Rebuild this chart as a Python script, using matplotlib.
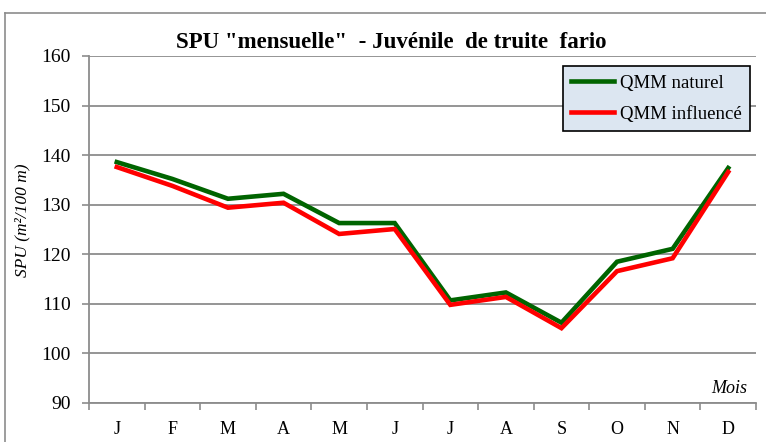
import matplotlib
matplotlib.use("Agg")
import matplotlib.pyplot as plt
from matplotlib.lines import Line2D

months = ["J", "F", "M", "A", "M", "J", "J", "A", "S", "O", "N", "D"]
qmm_naturel = [138.6, 135.2, 131.2, 132.2, 126.3, 126.3, 110.7, 112.3, 106.2, 118.5, 121.1, 137.4]
qmm_influence = [137.6, 133.8, 129.4, 130.4, 124.1, 125.1, 109.8, 111.4, 105.1, 116.6, 119.2, 136.6]
yticks = [90, 100, 110, 120, 130, 140, 150, 160]

plt.rcParams['font.family'] = ['Liberation Serif', 'DejaVu Serif']

fig = plt.figure(figsize=(7.66, 4.42), dpi=100)
ax = fig.add_axes([89/766, 1-403/442, (756-89)/766, (403-56)/442])

x = list(range(len(months)))
ax.plot(x, qmm_naturel, color="#006400", lw=3.3, label="QMM naturel", solid_joinstyle='miter')
ax.plot(x, qmm_influence, color="#ff0000", lw=3.3, label="QMM influencé", solid_joinstyle='miter')

ax.set_xlim(-0.5, len(months) - 0.5)
ax.set_ylim(90, 160)
ax.set_yticks(yticks)
ax.set_yticklabels([str(v) for v in yticks], fontsize=14)
ax.grid(axis='y', color="#8c8c8c", lw=1.3)
ax.set_axisbelow(True)

ax.set_xticks([i - 0.5 for i in range(len(months) + 1)])
ax.set_xticklabels([])
ax.set_xticks(x, minor=True)
ax.set_xticklabels(months, minor=True, fontsize=13)
ax.tick_params(axis='x', which='major', length=5, color="#8c8c8c", width=1.2)
ax.tick_params(axis='x', which='minor', length=0, pad=13)
ax.tick_params(axis='y', length=5, color="#8c8c8c", width=1.2, pad=8)

for s in ['top', 'right']:
    ax.spines[s].set_visible(False)
for s in ['left', 'bottom']:
    ax.spines[s].set_color("#8c8c8c")
    ax.spines[s].set_linewidth(1.3)

fig.text(22/766, 1-220/442, "SPU (m²/100 m)", rotation=90, ha='center', va='center',
         fontstyle='italic', fontsize=12.5)
ax.text(1-9/667, 6/347, "Mois", transform=ax.transAxes, ha='right', va='bottom',
        fontstyle='italic', fontsize=13)

fig.text(391/766, 1-43/442, 'SPU "mensuelle"  - Juvénile  de truite  fario',
         ha='center', va='center', fontsize=16.5, fontweight='bold')

leg = ax.legend(loc='upper right', bbox_to_anchor=(1-6/667, 1-10/347), fontsize=13.5,
                frameon=True, fancybox=False, edgecolor='black', facecolor="#dce6f1",
                framealpha=1, handlelength=2.3, borderpad=0.45, labelspacing=0.75,
                handletextpad=0.3, borderaxespad=0)
leg.get_frame().set_linewidth(1.2)

# outer chart border
fig.add_artist(Line2D([5/766, 5/766], [0, 1-13/442], transform=fig.transFigure, color="#8c8c8c", lw=1.2))
fig.add_artist(Line2D([5/766, 1], [1-13/442, 1-13/442], transform=fig.transFigure, color="#8c8c8c", lw=1.2))

fig.savefig("out.png", dpi=100)
